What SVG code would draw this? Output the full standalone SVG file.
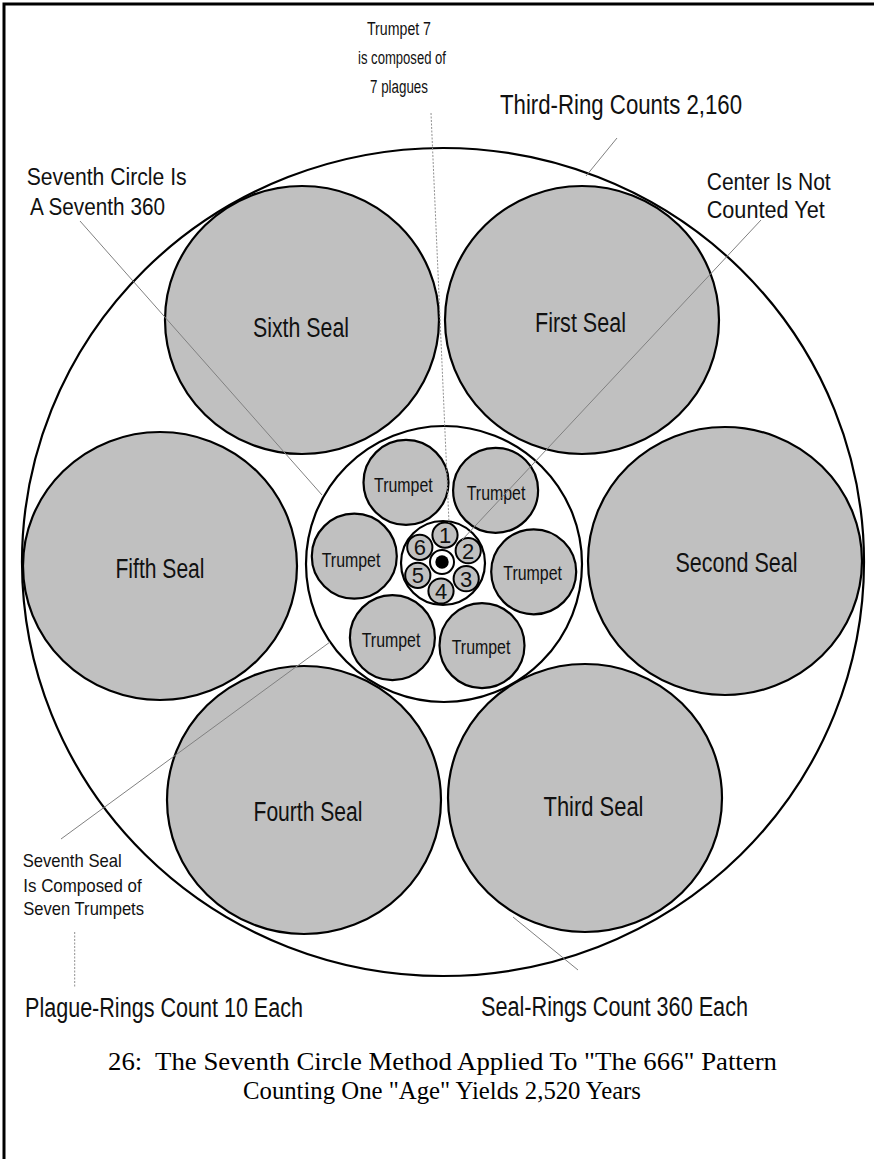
<svg xmlns="http://www.w3.org/2000/svg" width="874" height="1159" viewBox="0 0 874 1159">
<style>
.ring{fill:#ffffff;stroke:#000;stroke-width:2.2}
.seal{fill:#c0c0c0;stroke:#000;stroke-width:2.2}
.tr{fill:#c0c0c0;stroke:#000;stroke-width:2.2}
.pl{fill:#c0c0c0;stroke:#000;stroke-width:2}
.lbl{font-family:"Liberation Sans",Arial,sans-serif;fill:#111}
.big{font-size:27px}
.mid{font-size:23px}
.sm{font-size:19px}
.tt{font-size:21px}
.dg{font-family:"Liberation Sans",Arial,sans-serif;font-size:22px;fill:#111;text-anchor:middle}
.cap{font-family:"Liberation Serif","Times New Roman",serif;font-size:25px;fill:#000}
.ln{stroke:#808080;stroke-width:1;fill:none}
.dl{stroke:#909090;stroke-width:1;fill:none;stroke-dasharray:2 1.5}
</style>
<rect x="0" y="0" width="874" height="1159" fill="#fff"/>
<path id="frame" d="M4,1159 V4 H874" fill="none" stroke="#000" stroke-width="3"/>
<g id="outer-ring"><ellipse class="ring" cx="443" cy="562" rx="421" ry="414" fill="none"/></g>
<g id="sixth-seal"><ellipse class="seal" cx="302" cy="320" rx="137" ry="134"/><text class="lbl big" x="253" y="337" textLength="96" lengthAdjust="spacingAndGlyphs">Sixth Seal</text></g>
<g id="first-seal"><ellipse class="seal" cx="582" cy="320" rx="137" ry="134"/><text class="lbl big" x="535" y="332" textLength="91" lengthAdjust="spacingAndGlyphs">First Seal</text></g>
<g id="fifth-seal"><ellipse class="seal" cx="160" cy="566" rx="137" ry="134"/><text class="lbl big" x="115.5" y="578" textLength="89" lengthAdjust="spacingAndGlyphs">Fifth Seal</text></g>
<g id="second-seal"><ellipse class="seal" cx="725" cy="561" rx="137" ry="134"/><text class="lbl big" x="675.5" y="572" textLength="122" lengthAdjust="spacingAndGlyphs">Second Seal</text></g>
<g id="fourth-seal"><ellipse class="seal" cx="304" cy="800" rx="137" ry="134"/><text class="lbl big" x="253.5" y="821" textLength="109" lengthAdjust="spacingAndGlyphs">Fourth Seal</text></g>
<g id="third-seal"><ellipse class="seal" cx="585" cy="798" rx="137" ry="134"/><text class="lbl big" x="543.5" y="816" textLength="100" lengthAdjust="spacingAndGlyphs">Third Seal</text></g>
<g id="seventh-ring"><circle class="ring" cx="444" cy="564" r="138"/></g>
<g id="trumpet-tl"><circle class="tr" cx="406" cy="482.4" r="42.5"/><text class="lbl tt" x="374" y="491.5" textLength="58.7" lengthAdjust="spacingAndGlyphs">Trumpet</text></g>
<g id="trumpet-tr"><circle class="tr" cx="495.6" cy="490.3" r="42.5"/><text class="lbl tt" x="466.7" y="500" textLength="58.7" lengthAdjust="spacingAndGlyphs">Trumpet</text></g>
<g id="trumpet-l"><circle class="tr" cx="354.3" cy="556.2" r="42.5"/><text class="lbl tt" x="321.7" y="566.7" textLength="58.7" lengthAdjust="spacingAndGlyphs">Trumpet</text></g>
<g id="trumpet-r"><circle class="tr" cx="533.7" cy="571.8" r="42.5"/><text class="lbl tt" x="503.3" y="580" textLength="58.7" lengthAdjust="spacingAndGlyphs">Trumpet</text></g>
<g id="trumpet-bl"><circle class="tr" cx="392.4" cy="637.7" r="42.5"/><text class="lbl tt" x="361.7" y="646.7" textLength="58.7" lengthAdjust="spacingAndGlyphs">Trumpet</text></g>
<g id="trumpet-br"><circle class="tr" cx="482" cy="645.6" r="42.5"/><text class="lbl tt" x="451.7" y="654" textLength="58.7" lengthAdjust="spacingAndGlyphs">Trumpet</text></g>
<g id="plague-ring"><circle class="ring" cx="443" cy="563" r="42"/></g>
<g id="plague-1"><circle class="pl" cx="445" cy="535.1" r="12.6"/><text class="dg" x="445" y="543">1</text></g>
<g id="plague-2"><circle class="pl" cx="468.2" cy="550.7" r="12.6"/><text class="dg" x="468.2" y="558.6">2</text></g>
<g id="plague-3"><circle class="pl" cx="466.2" cy="578.7" r="12.6"/><text class="dg" x="466.2" y="586.6">3</text></g>
<g id="plague-4"><circle class="pl" cx="441" cy="591" r="12.6"/><text class="dg" x="441" y="598.9">4</text></g>
<g id="plague-5"><circle class="pl" cx="417.8" cy="575.3" r="12.6"/><text class="dg" x="417.8" y="583.2">5</text></g>
<g id="plague-6"><circle class="pl" cx="419.8" cy="547.3" r="12.6"/><text class="dg" x="419.8" y="555.2">6</text></g>
<g id="center"><circle cx="442" cy="562" r="12" fill="#fff" stroke="#000" stroke-width="2"/><circle cx="442" cy="562" r="6.7" fill="#000"/></g>
<g id="connectors">
<line class="dl" x1="431" y1="113" x2="449" y2="523"/>
<line class="ln" x1="617" y1="138" x2="586" y2="176"/>
<line class="ln" x1="80" y1="221" x2="322" y2="495"/>
<line class="ln" x1="761" y1="220" x2="462" y2="540"/>
<line class="ln" x1="61" y1="839" x2="330" y2="642"/>
<line class="dl" x1="74.7" y1="932" x2="74.7" y2="987"/>
<line class="ln" x1="513" y1="917" x2="578" y2="970"/>
</g>
<g id="label-trumpet7">
<text class="lbl" font-size="18" x="367" y="35" textLength="64" lengthAdjust="spacingAndGlyphs">Trumpet 7</text>
<text class="lbl" font-size="18" x="358" y="64" textLength="88" lengthAdjust="spacingAndGlyphs">is composed of</text>
<text class="lbl" font-size="18" x="370" y="93" textLength="58" lengthAdjust="spacingAndGlyphs">7 plagues</text>
</g>
<g id="label-third-ring"><text class="lbl big" x="500" y="114" textLength="242" lengthAdjust="spacingAndGlyphs">Third-Ring Counts 2,160</text></g>
<g id="label-seventh-circle">
<text class="lbl mid" x="26.7" y="185" textLength="160" lengthAdjust="spacingAndGlyphs">Seventh Circle Is</text>
<text class="lbl mid" x="30" y="215" textLength="135" lengthAdjust="spacingAndGlyphs">A Seventh 360</text>
</g>
<g id="label-center">
<text class="lbl mid" x="706.7" y="190" textLength="124" lengthAdjust="spacingAndGlyphs">Center Is Not</text>
<text class="lbl mid" x="706.7" y="218.3" textLength="118" lengthAdjust="spacingAndGlyphs">Counted Yet</text>
</g>
<g id="label-seventh-seal">
<text class="lbl sm" x="22.7" y="867.3" textLength="99" lengthAdjust="spacingAndGlyphs">Seventh Seal</text>
<text class="lbl sm" x="23.3" y="891.7" textLength="118.4" lengthAdjust="spacingAndGlyphs">Is Composed of</text>
<text class="lbl sm" x="23.3" y="915" textLength="120.7" lengthAdjust="spacingAndGlyphs">Seven Trumpets</text>
</g>
<g id="label-plague-rings"><text class="lbl big" x="25" y="1016.7" textLength="278" lengthAdjust="spacingAndGlyphs">Plague-Rings Count 10 Each</text></g>
<g id="label-seal-rings"><text class="lbl big" x="481" y="1016" textLength="267" lengthAdjust="spacingAndGlyphs">Seal-Rings Count 360 Each</text></g>
<g id="caption">
<text class="cap" x="108" y="1070" textLength="669" lengthAdjust="spacingAndGlyphs" xml:space="preserve">26:  The Seventh Circle Method Applied To "The 666" Pattern</text>
<text class="cap" x="243" y="1099" textLength="398" lengthAdjust="spacingAndGlyphs">Counting One "Age" Yields 2,520 Years</text>
</g>
</svg>
